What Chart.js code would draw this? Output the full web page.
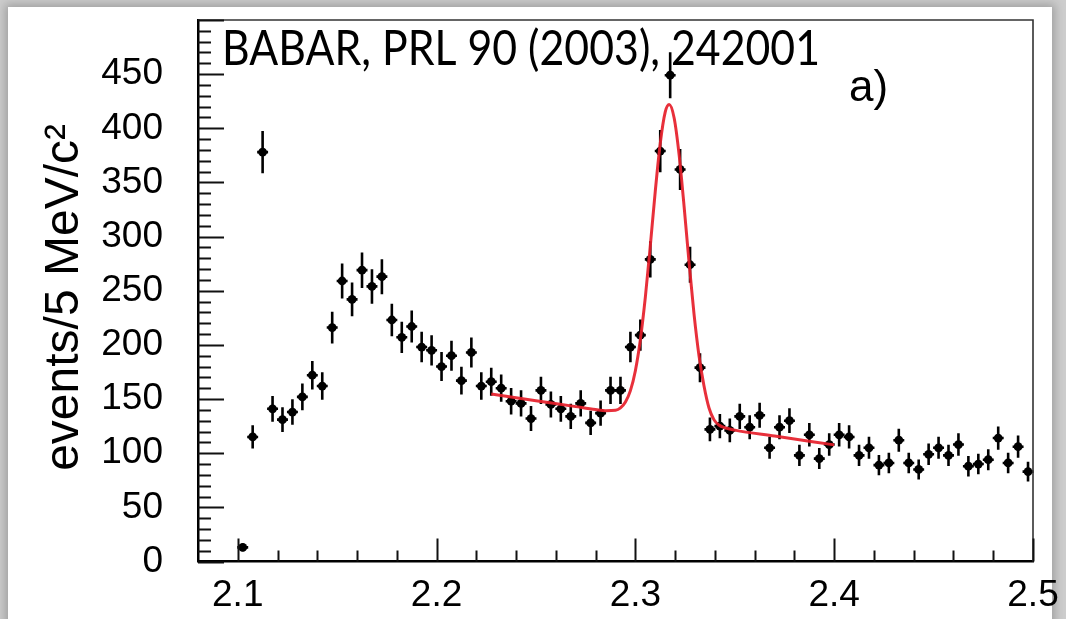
<!DOCTYPE html>
<html>
<head>
<meta charset="utf-8">
<script src="https://cdn.jsdelivr.net/npm/chart.js@4.4.1/dist/chart.umd.min.js"></script>
<style>
  html, body { margin:0; padding:0; width:1066px; height:619px; overflow:hidden; background:#cdcdcd; }
  #sheet { position:absolute; left:8px; top:7px; width:1044px; height:700px; background:#fff;
           box-shadow: 0 0 9px 3px rgba(0,0,0,0.22); }
  #c { position:absolute; left:0; top:0; }
</style>
</head>
<body>
<div id="sheet"></div>
<canvas id="c" width="1066" height="619"></canvas>
<script>
// ---- data ----
const binCenters = [
  2.1025, 2.1075, 2.1125, 2.1175, 2.1225, 2.1275, 2.1325, 2.1375, 2.1425, 2.1475,
  2.1525, 2.1575, 2.1625, 2.1675, 2.1725, 2.1775, 2.1825, 2.1875, 2.1925, 2.1975,
  2.2025, 2.2075, 2.2125, 2.2175, 2.2225, 2.2275, 2.2325, 2.2375, 2.2425, 2.2475,
  2.2525, 2.2575, 2.2625, 2.2675, 2.2725, 2.2775, 2.2825, 2.2875, 2.2925, 2.2975,
  2.3025, 2.3075, 2.3125, 2.3175, 2.3225, 2.3275, 2.3325, 2.3375, 2.3425, 2.3475,
  2.3525, 2.3575, 2.3625, 2.3675, 2.3725, 2.3775, 2.3825, 2.3875, 2.3925, 2.3975,
  2.4025, 2.4075, 2.4125, 2.4175, 2.4225, 2.4275, 2.4325, 2.4375, 2.4425, 2.4475,
  2.4525, 2.4575, 2.4625, 2.4675, 2.4725, 2.4775, 2.4825, 2.4875, 2.4925, 2.4975
];
const events = [
  13, 115, 378, 141, 131, 138, 152, 172, 162, 216,
  259, 242, 269, 254, 263, 223, 207, 217, 198, 195,
  180, 190, 167, 193, 162, 166, 160, 148, 146, 132,
  158, 145, 141, 134, 146, 128, 137, 158, 158, 198,
  209, 279, 379, 449, 362, 274, 179, 122, 125, 121,
  134, 124, 135, 105, 124, 130, 98, 117, 95, 108,
  117, 115, 98, 105, 89, 91, 112, 91, 85, 99,
  105, 98, 108, 88, 90, 94, 114, 91, 106, 83
];
const eventErrors = [
  3.6, 10.7, 19.4, 11.9, 11.4, 11.7, 12.3, 13.1, 12.7, 14.7,
  16.1, 15.6, 16.4, 15.9, 16.2, 14.9, 14.4, 14.7, 14.1, 14.0,
  13.4, 13.8, 12.9, 13.9, 12.7, 12.9, 12.6, 12.2, 12.1, 11.5,
  12.6, 12.0, 11.9, 11.6, 12.1, 11.3, 11.7, 12.6, 12.6, 14.1,
  14.5, 16.7, 19.5, 21.2, 19.0, 16.6, 13.4, 11.0, 11.2, 11.0,
  11.6, 11.1, 11.6, 10.2, 11.1, 11.4, 9.9, 10.8, 9.7, 10.4,
  10.8, 10.7, 9.9, 10.2, 9.4, 9.5, 10.6, 9.5, 9.2, 9.9,
  10.2, 9.9, 10.4, 9.4, 9.5, 9.7, 10.7, 9.5, 10.3, 9.1
];
const binHalfWidth = 0.0025;
const fitMass = [
  2.2275, 2.25, 2.27, 2.28, 2.285, 2.29, 2.2925, 2.295, 2.2975, 2.30,
  2.3025, 2.305, 2.3075, 2.31, 2.3125, 2.315, 2.317, 2.3195, 2.322, 2.3245,
  2.327, 2.3295, 2.332, 2.3345, 2.337, 2.3395, 2.342, 2.345, 2.35, 2.37, 2.40
];
const fitEvents = [
  154.6, 148.5, 143.0, 140.3, 139.2, 139.6, 141.8, 147.3, 157.8, 176.2,
  204.7, 243.8, 291.4, 341.8, 386.0, 415.0, 422.0, 409.5, 375.5, 327.9,
  276.0, 228.4, 190.0, 162.3, 142.0, 131.0, 126.0, 123.5, 121.3, 115.8, 107.7
];
const xTickValues = [2.1, 2.2, 2.3, 2.4, 2.5];
const yTickValues = [0, 50, 100, 150, 200, 250, 300, 350, 400, 450];
const yAxisTitle = 'events/5 MeV/c\u00B2 ';
const refText = 'BABAR, PRL 90 (2003), 242001';
const panelText = 'a)';

// ---- build datasets ----
const points = binCenters.map((x, i) => ({ x: x, y: events[i] }));
const fitPoints = fitMass.map((x, i) => ({ x: x, y: fitEvents[i] }));

const zeroPad = s => { s.paddingTop = 0; s.paddingBottom = 0; s.paddingLeft = 0; s.paddingRight = 0; };

const decor = {
  id: 'decor',
  beforeDatasetsDraw(chart) {
    const { ctx, scales: { x, y } } = chart;
    ctx.save();
    ctx.strokeStyle = '#000';
    ctx.lineWidth = 2.6;
    ctx.lineCap = 'butt';
    for (let i = 0; i < binCenters.length; i++) {
      const px = x.getPixelForValue(binCenters[i]);
      const py = y.getPixelForValue(events[i]);
      ctx.beginPath();
      ctx.moveTo(px, y.getPixelForValue(events[i] - eventErrors[i]));
      ctx.lineTo(px, y.getPixelForValue(events[i] + eventErrors[i]));
      ctx.moveTo(x.getPixelForValue(binCenters[i] - binHalfWidth) - 0.5, py);
      ctx.lineTo(x.getPixelForValue(binCenters[i] + binHalfWidth) + 0.5, py);
      ctx.stroke();
    }
    ctx.restore();
  },
  afterDraw(chart) {
    const { ctx, chartArea: a, scales: { x, y } } = chart;
    ctx.save();
    // top and right frame
    ctx.strokeStyle = '#333';
    ctx.lineWidth = 1.6;
    ctx.beginPath();
    ctx.moveTo(a.left, a.top);
    ctx.lineTo(a.right, a.top);
    ctx.lineTo(a.right, a.bottom);
    ctx.stroke();
    // inner ticks
    ctx.strokeStyle = '#111';
    ctx.lineWidth = 2;
    ctx.beginPath();
    for (let v = 0; v <= 500; v += 10) {
      const py = Math.round(y.getPixelForValue(v)) + 0.5;
      const len = (v % 50 === 0) ? 26 : 13;
      ctx.moveTo(a.left, py);
      ctx.lineTo(a.left + len, py);
    }
    for (let k = 0; k <= 20; k++) {
      const v = 2.1 + k * 0.02;
      const px = Math.round(x.getPixelForValue(v)) + 0.5;
      const len = (k % 5 === 0) ? 23 : 11;
      ctx.moveTo(px, a.bottom);
      ctx.lineTo(px, a.bottom - len);
    }
    ctx.stroke();
    // texts
    ctx.fillStyle = '#000';
    ctx.textBaseline = 'alphabetic';
    ctx.textAlign = 'left';
    ctx.font = '48px Lato';
    ctx.fillText(refText, 222, 65, 598);
    ctx.font = '44px "Liberation Sans"';
    ctx.fillText(panelText, 849, 101);
    ctx.restore();
  }
};

new Chart(document.getElementById('c').getContext('2d'), {
  type: 'scatter',
  data: {
    datasets: [
      {
        type: 'line',
        data: fitPoints,
        borderColor: 'rgba(230,30,42,0.92)',
        borderWidth: 3,
        pointRadius: 0,
        fill: false,
        cubicInterpolationMode: 'monotone'
      },
      {
        type: 'scatter',
        data: points,
        pointRadius: 4.4,
        pointBackgroundColor: '#000',
        pointBorderWidth: 0
      }
    ]
  },
  options: {
    responsive: false,
    animation: false,
    devicePixelRatio: 1,
    layout: { padding: { left: 0, top: 20, right: 33, bottom: 0 } },
    plugins: { legend: { display: false }, tooltip: { enabled: false } },
    scales: {
      x: {
        type: 'linear',
        min: 2.08,
        max: 2.5,
        grid: { display: false, drawTicks: false },
        border: { display: true, color: '#000', width: 2.5 },
        afterBuildTicks: s => { s.ticks = xTickValues.map(v => ({ value: v })); },
        afterFit: s => { s.height = 57.5; zeroPad(s); },
        ticks: {
          color: '#000',
          font: { family: '"Liberation Sans", Arial, sans-serif', size: 37 },
          padding: 12,
          maxRotation: 0,
          autoSkip: false,
          callback: v => Number(v).toFixed(1)
        }
      },
      y: {
        type: 'linear',
        min: 0,
        max: 500,
        grid: { display: false, drawTicks: false },
        border: { display: true, color: '#000', width: 2.5 },
        afterBuildTicks: s => { s.ticks = yTickValues.map(v => ({ value: v })); },
        afterFit: s => { s.width = 198; zeroPad(s); },
        ticks: {
          color: '#000',
          font: { family: '"Liberation Sans", Arial, sans-serif', size: 37 },
          padding: 35,
          autoSkip: false,
          callback: v => String(v)
        },
        title: {
          display: true,
          text: yAxisTitle,
          color: '#000',
          font: { family: '"Liberation Sans", Arial, sans-serif', size: 48 },
          padding: { top: 36, bottom: 0 }
        }
      }
    }
  },
  plugins: [decor]
});
</script>
</body>
</html>
